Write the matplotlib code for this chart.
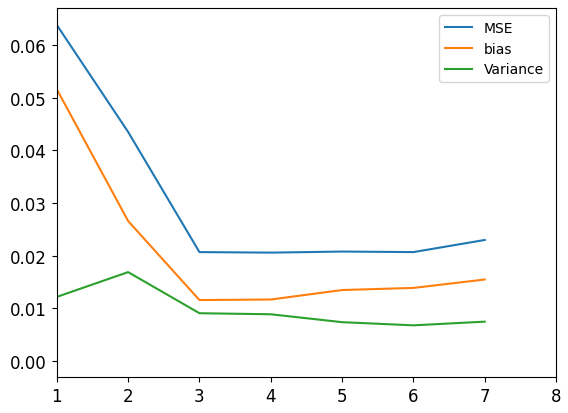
import matplotlib
matplotlib.use("Agg")
import matplotlib.pyplot as plt

depth = [1, 2, 3, 4, 5, 6, 7]
mse = [0.0638, 0.0435, 0.0207, 0.0206, 0.0208, 0.0207, 0.0230]
bias = [0.0516, 0.0266, 0.0116, 0.0117, 0.0135, 0.0139, 0.0155]
variance = [0.0122, 0.0169, 0.0091, 0.0089, 0.0074, 0.0068, 0.0075]

fig = plt.figure(figsize=(5.68, 4.14), dpi=100)
ax = fig.add_axes([0.100, 0.087, 0.879, 0.891])
ax.plot(depth, mse, label="MSE")
ax.plot(depth, bias, label="bias")
ax.plot(depth, variance, label="Variance")
ax.set_xlim(1, 8)
ax.set_ylim(-0.003, 0.067)
ax.tick_params(labelsize=12)
ax.legend()
fig.savefig("out.png", dpi=100)
